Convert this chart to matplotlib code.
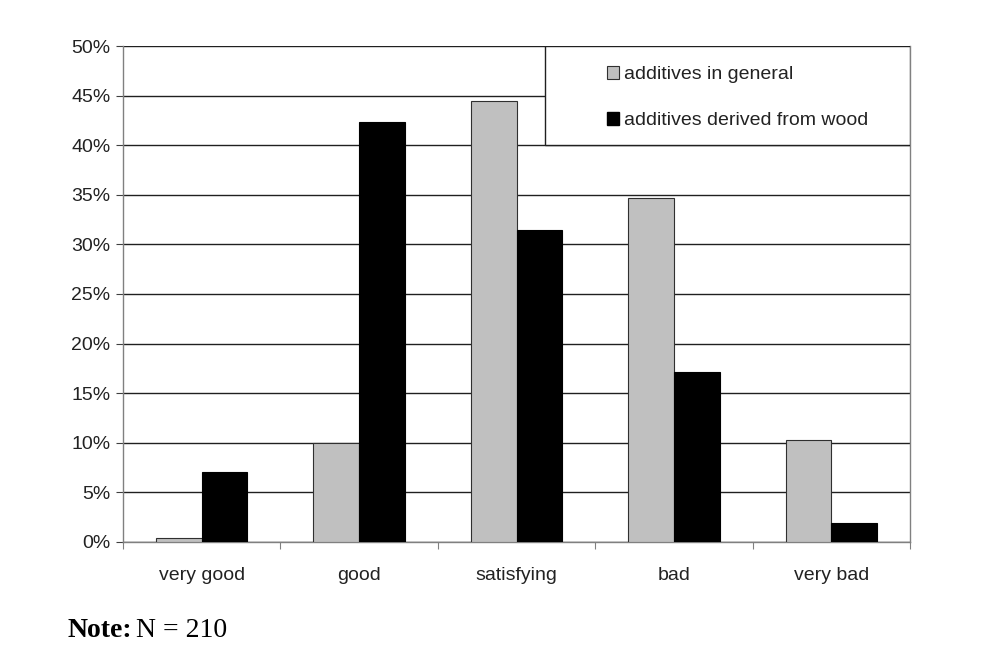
import numpy as np
import matplotlib.pyplot as plt
from matplotlib.patches import Rectangle, Patch

categories = ['very good', 'good', 'satisfying', 'bad', 'very bad']
general = [0.4, 10.0, 44.5, 34.7, 10.3]
wood = [7.1, 42.3, 31.5, 17.1, 1.9]
series_names = ['additives in general', 'additives derived from wood']

plt.rcParams['font.family'] = ['Liberation Sans', 'DejaVu Sans']
font_small = 14

fig = plt.figure(figsize=(9.96, 6.62), dpi=100)
ax = fig.add_axes([0.1235, 0.1813, 0.7902, 0.7492])

x = np.arange(len(categories))
w = 0.29
ax.bar(x - w / 2, general, w, color='#c0c0c0', edgecolor='#303030', linewidth=0.8, zorder=3)
ax.bar(x + w / 2, wood, w, color='black', edgecolor='black', linewidth=0.8, zorder=3)

ax.set_xlim(-0.5, len(categories) - 0.5)
ax.set_ylim(0, 50)
ax.set_yticks(np.arange(0, 51, 5))
ax.set_yticklabels([f'{v}%' for v in range(0, 51, 5)], fontsize=font_small, color='#222222')
ax.yaxis.grid(True, color='#202020', linewidth=1.0, zorder=0)
ax.set_axisbelow(True)

ax.set_xticks(np.arange(-0.5, len(categories), 1.0))
ax.set_xticklabels([])
ax.set_xticks(x, minor=True)
ax.set_xticklabels(categories, minor=True, fontsize=font_small, color='#222222')
ax.tick_params(axis='x', which='minor', length=0, pad=18)
ax.tick_params(axis='x', which='major', length=5, color='#808080', direction='out')
ax.tick_params(axis='y', length=5, color='#404040', direction='out', pad=4)

for s in ['left', 'right', 'bottom']:
    ax.spines[s].set_color('#808080')
    ax.spines[s].set_linewidth(1.0)
ax.spines['top'].set_visible(False)

# legend box in upper right
ax.add_patch(Rectangle((0.5362, 0.8004), 0.4638, 0.1996, transform=ax.transAxes,
                       facecolor='white', edgecolor='#202020', linewidth=1.0, zorder=5))
handles = [Patch(facecolor='#c0c0c0', edgecolor='#303030', linewidth=0.8),
           Patch(facecolor='black', edgecolor='black')]
leg = ax.legend(handles, series_names, loc='upper left', bbox_to_anchor=(0.605, 0.975),
                frameon=False, fontsize=font_small, handlelength=0.6, handleheight=0.6,
                handletextpad=0.3, labelspacing=1.5, borderaxespad=0)
for t in leg.get_texts():
    t.set_color('#222222')
leg.set_zorder(6)

note = fig.text(0.068, 0.038, 'Note:', fontsize=20, family='Liberation Serif', weight='bold')
fig.canvas.draw()
bb = note.get_window_extent().transformed(fig.transFigure.inverted())
fig.text(bb.x1 + 0.004, 0.038, 'N = 210', fontsize=20, family='Liberation Serif')

plt.savefig('out.png', dpi=100)
